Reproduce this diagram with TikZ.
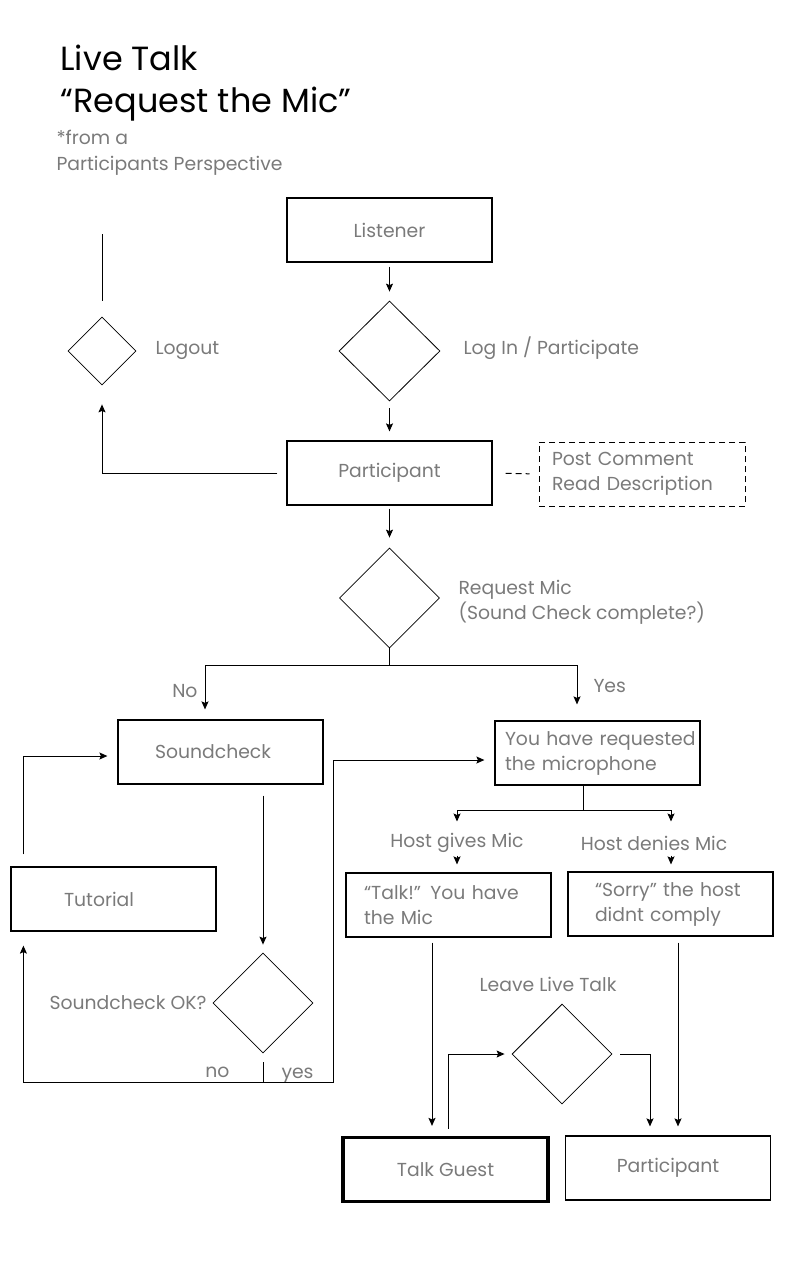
\documentclass[tikz,border=0pt]{standalone}
\usepackage{fontspec}
\setmainfont{Poppins}
\usetikzlibrary{shapes.geometric,arrows.meta}
\definecolor{txt}{HTML}{7A7A7A}
\newcommand\gtxt{\fontsize{18.8}{25}\selectfont}
\begin{document}
\begin{tikzpicture}[x=1pt,y=-1pt,line width=1pt,
  box/.style={draw, line width=1.2pt, minimum width=205pt, minimum height=64pt, inner sep=0pt, text=txt, font=\gtxt},
  arr/.style={-{Stealth[length=8pt,width=7pt,inset=1.5pt]}, line width=1pt},
  dia/.style={diamond, draw, line width=0.8pt, inner sep=0pt, aspect=1},
  lbl/.style={text=txt, font=\gtxt, inner sep=0pt}]
\useasboundingbox (0,0) rectangle (800,1280);
% title
\node[anchor=base west, font=\fontsize{33.5}{36}\selectfont, inner sep=0pt] (t1) at (60,70) {Live Talk};
\node[anchor=base west, font=\fontsize{33.5}{36}\selectfont, inner sep=0pt] (t2) at (60,112) {“Request the Mic”};
\node[lbl, anchor=base west] (t3) at (56,144) {*from a};
\node[lbl, anchor=base west] (t4) at (56,170) {Participants Perspective};
% top part
\node[box, yshift=2pt] (listener) at (389.5,232) {Listener};
\node[dia, minimum width=101pt, minimum height=100pt] (login) at (389.5,351) {};
\node[lbl, anchor=base west] (loginl) at (463,354) {Log In / Participate};
\node[box] (part) at (389.5,473) {Participant};
\node[box, dashed, dash pattern=on 6pt off 4pt, line width=1pt, text width=180pt, align=left, inner xsep=13pt] (pc) at (642,474) {\mbox{Post Comment}\\\mbox{Read Description}};
\node[dia, minimum width=68pt, minimum height=68pt] (logout) at (102,351) {};
\node[lbl, anchor=base west] (logoutl) at (155,354) {Logout};
\coordinate (logtop) at (102,234);
\node[dia, minimum width=100pt, minimum height=100pt] (req) at (389.5,598) {};
\node[lbl, anchor=west, align=left] (reql) at (458,602) {Request Mic\\(Sound Check complete?)};
\coordinate (split) at (389.5,665);
\node[lbl, anchor=base east] (nol) at (198,697) {No};
\node[lbl, anchor=base west] (yesl) at (593,692) {Yes};
% middle
\node[box, text width=131pt, inner xsep=37pt, align=left] (snd) at (220.5,752) {\mbox{Soundcheck}};
\node[box, text width=185pt, inner xsep=10pt, align=left] (reqbox) at (597.5,753) {\mbox{You have requested}\\\mbox{the microphone}};
\node[dia, minimum width=100pt, minimum height=100pt] (sok) at (263,1003) {};
\node[lbl, anchor=base east] (sokl) at (207,1009) {Soundcheck OK?};
\coordinate (sokb) at (263,1082);
\coordinate (yesb) at (333,1082);
\node[lbl, anchor=base east] (nol2) at (230,1077) {no};
\node[lbl, anchor=base west] (yesl2) at (281,1078) {yes};
\node[box, text width=99pt, inner xsep=53pt, align=left] (tut) at (113.5,899) {\mbox{Tutorial}};
% right part
\coordinate (hsplit) at (583,810);
\node[lbl, minimum height=20pt] (hg) at (457,843) {Host gives Mic};
\node[lbl, minimum height=20pt] (hd) at (654,843) {Host denies Mic};
\node[box, text width=169pt, inner xsep=18pt, align=left] (talk) at (448.5,905) {\mbox{“Talk!” You have}\\\mbox{the Mic}};
\node[box, text width=151pt, inner xsep=27pt, align=left] (sorry) at (670.5,904) {\mbox{“Sorry” the host}\\\mbox{didnt comply}};
\node[lbl] (leavel) at (548,984) {Leave Live Talk};
\node[dia, minimum width=100pt, minimum height=100pt] (leave) at (562,1054) {};
\node[box, line width=3.2pt] (tg) at (445.5,1169.5) {Talk Guest};
\node[box] (p2) at (668,1168) {Participant};
% connectors
\draw[arr, shorten <=4pt, shorten >=9pt] (listener) -- (login);
\draw[arr, shorten <=7pt, shorten >=9pt] (login) -- (part);
\draw[arr, shorten <=9pt, shorten >=19pt] (part.west) -| (logout.south);
\draw[shorten <=16pt] (logout.north) -- (logtop);
\draw[dashed, dash pattern=on 6pt off 4pt, shorten <=13pt, shorten >=9pt] (part.east) -- (pc.west);
\draw[arr, shorten <=3pt, shorten >=10pt] (part) -- (req);
\draw (req.south) -- (split);
\draw[arr, shorten >=10pt] (split) -| ([xshift=-15.5pt]snd.north);
\draw[arr, shorten >=16pt] (split) -| ([xshift=-20.5pt]reqbox.north);
\draw[arr, shorten <=11pt, shorten >=8pt] (sok.north |- snd.south) -- (sok.north);
\draw[shorten <=9pt] (sok.south) -- (sokb);
\draw[arr, shorten >=14pt] (sokb) -| ([xshift=13pt]tut.south west);
\draw[arr, shorten >=10pt] (sokb) -- (yesb) |- ([yshift=-7pt]reqbox.west);
\draw[arr, shorten <=12pt, shorten >=10pt] ([xshift=13pt]tut.north west) |- ([yshift=-4pt]snd.west);
\draw ([xshift=-14.5pt]reqbox.south) -- (hsplit);
\draw[arr, shorten >=11pt] (hsplit) -| (hg.north);
\draw[arr, shorten >=11pt] (hsplit) -| ([xshift=17pt]hd.north);
\draw[arr, shorten <=2pt, shorten >=8pt] (hg.south) -- (hg.south |- talk.north);
\draw[arr, shorten <=2pt, shorten >=7pt] ([xshift=17pt]hd.south) -- ([xshift=17pt]hd.south |- sorry.north);
\draw[arr, shorten <=5pt, shorten >=10pt] ([xshift=-16.5pt]talk.south) -- ([xshift=-16.5pt]talk.south |- tg.north);
\draw[arr, shorten <=6pt, shorten >=9pt] ([xshift=7.5pt]sorry.south) -- ([xshift=7.5pt]sorry.south |- p2.north);
\draw[arr, shorten <=7pt, shorten >=7pt] ([xshift=2.5pt]tg.north) |- (leave.west);
\draw[arr, shorten <=8pt, shorten >=9pt] (leave.east) -| ([xshift=-18pt]p2.north);
\end{tikzpicture}
\end{document}
